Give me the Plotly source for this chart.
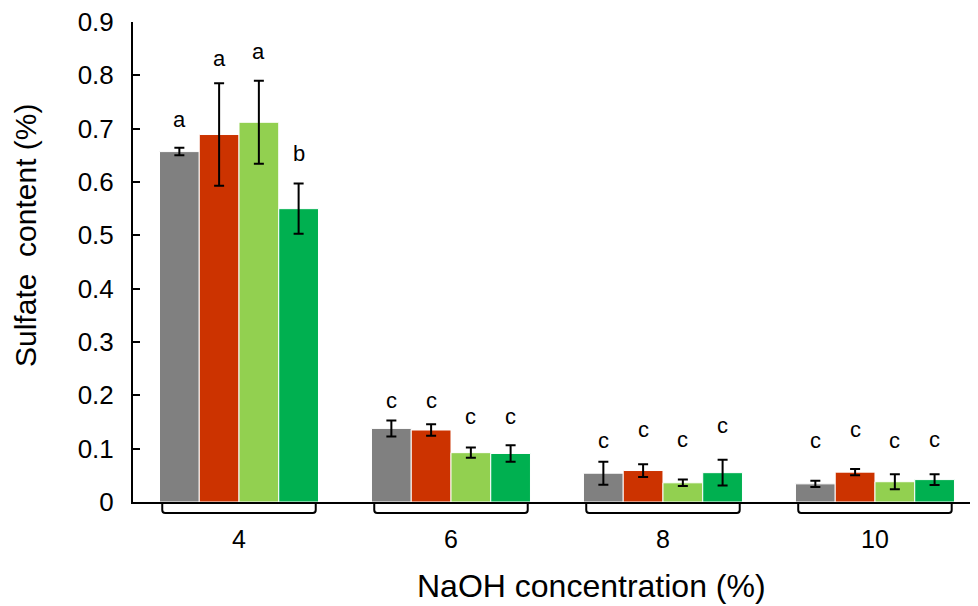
import plotly.graph_objects as go

categories = ["4", "6", "8", "10"]

series_names = ["Series 1", "Series 2", "Series 3", "Series 4"]
values_1 = [0.657, 0.138, 0.054, 0.034]
values_2 = [0.689, 0.135, 0.059, 0.056]
values_3 = [0.712, 0.0925, 0.036, 0.038]
values_4 = [0.550, 0.091, 0.055, 0.042]

errors_1 = [0.007, 0.015, 0.0215, 0.006]
errors_2 = [0.096, 0.011, 0.012, 0.006]
errors_3 = [0.078, 0.0095, 0.006, 0.014]
errors_4 = [0.047, 0.0155, 0.024, 0.010]

letters_1 = ["a", "c", "c", "c"]
letters_2 = ["a", "c", "c", "c"]
letters_3 = ["a", "c", "c", "c"]
letters_4 = ["b", "c", "c", "c"]

letter_y_1 = [0.717, 0.191, 0.116, 0.116]
letter_y_2 = [0.832, 0.191, 0.136, 0.136]
letter_y_3 = [0.845, 0.161, 0.118, 0.116]
letter_y_4 = [0.654, 0.161, 0.144, 0.118]

y_ticks = [0, 0.1, 0.2, 0.3, 0.4, 0.5, 0.6, 0.7, 0.8, 0.9]
y_tick_text = ["0", "0.1", "0.2", "0.3", "0.4", "0.5", "0.6", "0.7", "0.8", "0.9"]

x_title = "NaOH concentration (%)"
y_title = "Sulfate\u00a0 content (%)"

colors = ["#808080", "#CC3300", "#92D050", "#00B050"]

all_values = [values_1, values_2, values_3, values_4]
all_errors = [errors_1, errors_2, errors_3, errors_4]
all_letters = [letters_1, letters_2, letters_3, letters_4]
all_letter_y = [letter_y_1, letter_y_2, letter_y_3, letter_y_4]

FONT = "Liberation Sans, Arial, sans-serif"

# the page body adds an 8px offset; size the figure so the plot lands
# at the same window pixels as the reference
OFF = 8
W, H = 978 - OFF, 606 - OFF
PLOT_L, PLOT_T, PLOT_B = 133 - OFF, 22 - OFF, 502 - OFF
plot_w = W - PLOT_L
plot_h = PLOT_B - PLOT_T

fig = go.Figure()
for name, vals, errs, col in zip(series_names, all_values, all_errors, colors):
    fig.add_trace(go.Bar(
        x=categories, y=vals, name=name,
        marker=dict(color=col, line=dict(color="white", width=1)),
        error_y=dict(type="data", array=errs, visible=True,
                     color="black", thickness=2, width=5),
    ))

bargap = 0.25
n_series = len(series_names)
bar_w = (1 - bargap) / n_series
annotations = []
for s, (lets, ly) in enumerate(zip(all_letters, all_letter_y)):
    off = -(1 - bargap) / 2 + bar_w * (s + 0.5)
    for g, (t, yy) in enumerate(zip(lets, ly)):
        annotations.append(dict(
            x=g + off, y=yy, xref="x", yref="y", text=t, showarrow=False,
            yanchor="middle", xanchor="center",
            font=dict(family=FONT, size=22, color="black"),
        ))

# axis titles (window pixel centres converted to paper coordinates)
xt_cx, xt_cy = 591.5 - OFF, 586 - OFF
yt_cx, yt_cy = 25 - OFF, 236 - OFF
annotations.append(dict(
    x=(xt_cx - PLOT_L) / plot_w, y=(PLOT_B - xt_cy) / plot_h,
    xref="paper", yref="paper", text=x_title,
    showarrow=False, xanchor="center", yanchor="middle",
    font=dict(family=FONT, size=32, color="black"),
))
annotations.append(dict(
    x=(yt_cx - PLOT_L) / plot_w, y=(PLOT_B - yt_cy) / plot_h,
    xref="paper", yref="paper", text=y_title,
    showarrow=False, xanchor="center", yanchor="middle", textangle=-90,
    font=dict(family=FONT, size=30, color="black"),
))

# brackets under each group
shapes = []
half = 0.362
h = 11 / plot_h
rx = 3 / 212
ry = 3 / plot_h
for g in range(len(categories)):
    xl = g - half
    xr = g + half
    path = (f"M {xl},0 L {xl},{-h + ry} Q {xl},{-h} {xl + rx},{-h} "
            f"L {xr - rx},{-h} Q {xr},{-h} {xr},{-h + ry} L {xr},0")
    shapes.append(dict(type="path", path=path, xref="x", yref="paper",
                       line=dict(color="black", width=2)))

fig.update_layout(
    width=W, height=H,
    margin=dict(l=PLOT_L, r=0, t=PLOT_T, b=H - PLOT_B),
    paper_bgcolor="white", plot_bgcolor="white",
    barmode="group", bargap=bargap, bargroupgap=0,
    showlegend=False,
    annotations=annotations,
    shapes=shapes,
    font=dict(family=FONT, color="black"),
)
fig.update_xaxes(
    range=[-0.5, 3.486], showline=True, linecolor="black", linewidth=2,
    ticks="", showgrid=False, zeroline=False,
    tickfont=dict(family=FONT, size=25, color="black"),
    ticklabelstandoff=14,
)
fig.update_yaxes(
    range=[0, 0.9], tickvals=y_ticks, ticktext=y_tick_text,
    showline=True, linecolor="black", linewidth=2,
    ticks="inside", ticklen=7, tickwidth=2, tickcolor="black",
    showgrid=False, zeroline=False,
    tickfont=dict(family=FONT, size=26, color="black"),
    ticklabelstandoff=12, ticklabeloverflow="allow",
)

fig.write_html("out.html")
